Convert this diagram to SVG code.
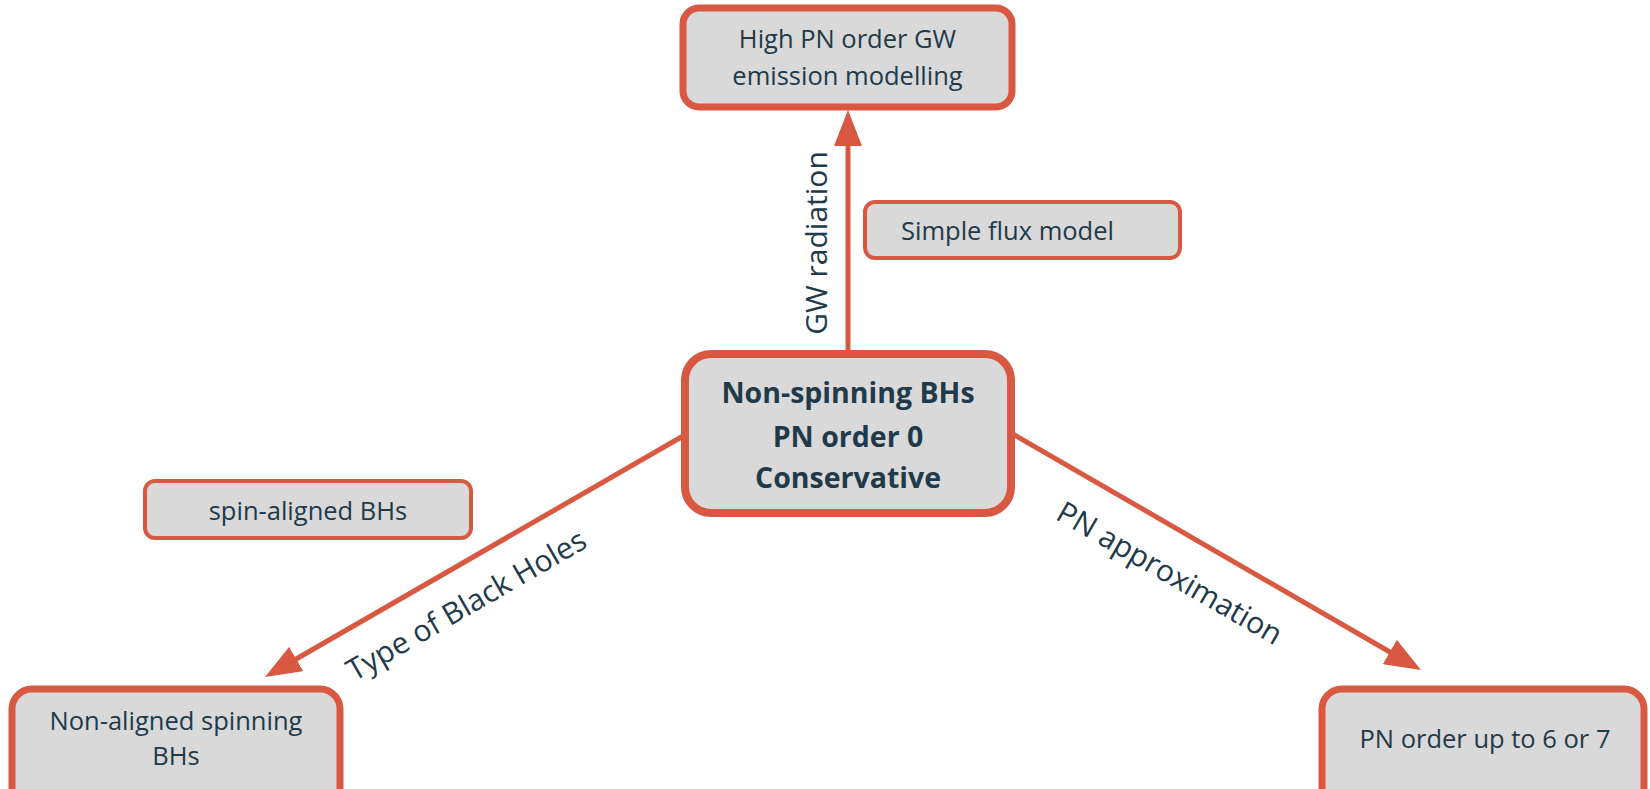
<svg xmlns="http://www.w3.org/2000/svg" width="1650" height="789" viewBox="0 0 1650 789">
<style>
.box{fill:#D9D9D9;stroke:#D95841}
.t{font-family:"Open Sans","Noto Sans","Liberation Sans",sans-serif;fill:#213A4A;text-anchor:middle}
.n{font-size:25.5px}
.b{font-size:28.5px;font-weight:bold}
.l{font-size:30px}
.c{stroke:#D95841;stroke-width:5;fill:none;marker-end:url(#ah)}
</style>
<defs>
<marker id="ah" viewBox="0 0 36 28" refX="16" refY="14" markerWidth="36" markerHeight="28" markerUnits="userSpaceOnUse" orient="auto">
<path d="M0,0 L36,14 L0,28 Z" fill="#D95841"/>
</marker>
</defs>
<rect width="1650" height="789" fill="#FFFFFF"/>
<g id="connectors">
<path class="c" d="M848,360 L848,130"/>
<path class="c" d="M690,432 L282.3,667"/>
<path class="c" d="M1006,430 L1403.7,660"/>
<text class="t l" transform="translate(827,243) rotate(-90)" x="0" y="0">GW radiation</text>
<text class="t l" transform="translate(468,608) rotate(-30)" x="0" y="7">Type of Black Holes</text>
<text class="t l" transform="translate(1168,576) rotate(30)" x="0" y="7">PN approximation</text>
</g>
<g id="node-high-pn">
<rect class="box" x="683" y="8" width="329" height="99" rx="16" stroke-width="7"/>
<text class="t n" x="847.5" y="48">High PN order GW</text>
<text class="t n" x="847.5" y="85">emission modelling</text>
</g>
<g id="node-simple-flux">
<rect class="box" x="865" y="202" width="315" height="56" rx="10" stroke-width="4"/>
<text class="t n" x="1007.5" y="240">Simple flux model</text>
</g>
<g id="node-center">
<rect class="box" x="685" y="354" width="326" height="159" rx="26" stroke-width="8"/>
<text class="t b" x="848" y="403">Non-spinning BHs</text>
<text class="t b" x="848" y="447">PN order 0</text>
<text class="t b" x="848" y="488">Conservative</text>
</g>
<g id="node-spin-aligned">
<rect class="box" x="145" y="481" width="326" height="57" rx="10" stroke-width="4"/>
<text class="t n" x="308" y="520">spin-aligned BHs</text>
</g>
<g id="node-non-aligned">
<rect class="box" x="12" y="689" width="328" height="120" rx="20" stroke-width="7"/>
<text class="t n" x="176" y="730">Non-aligned spinning</text>
<text class="t n" x="176" y="765">BHs</text>
</g>
<g id="node-pn-order">
<rect class="box" x="1322" y="689" width="322" height="120" rx="20" stroke-width="7"/>
<text class="t n" x="1485" y="748">PN order up to 6 or 7</text>
</g>
</svg>
